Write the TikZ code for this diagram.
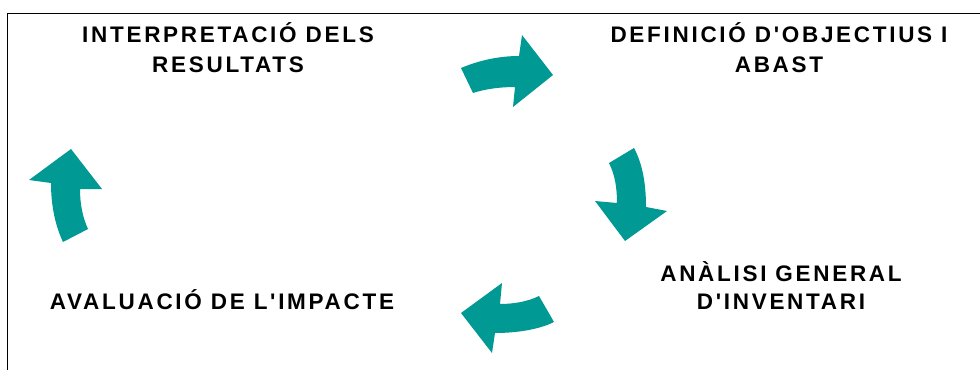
\documentclass[tikz,border=0pt]{standalone}
\usepackage{fontspec}
\newfontfamily\lblfont{Liberation Sans}[LetterSpace=12]
\definecolor{teal}{RGB}{0,153,148}
\begin{document}
\begin{tikzpicture}[x=1pt,y=-1pt,
  lbl/.style={align=center,inner sep=0pt,font=\lblfont\bfseries\fontsize{22.5}{30}\selectfont},
  lblb/.style={align=center,inner sep=0pt,font=\lblfont\bfseries\fontsize{22.5}{28}\selectfont},
  cyc/.style={fill=teal,draw=none}]
\useasboundingbox (0,0) rectangle (980,370);
\fill[white] (0,0) rectangle (980,370);
% frame (top and left only)
\coordinate (fa) at (7,370);
\coordinate (fb) at (7,13);
\coordinate (fc) at (980,13);
\draw[line width=0.9pt] (fa) -- (fb) -- (fc);
% labels
\node[lbl] (interp) at (228,47.5) {INTERPRETACIÓ DELS\\RESULTATS};
\node[lbl] (defin) at (779,47.5) {DEFINICIÓ D'OBJECTIUS I\\ABAST};
\node[lblb] (analisi) at (781,286) {ANÀLISI GENERAL\\D'INVENTARI};
\node[lbl] (aval) at (222,300) {AVALUACIÓ DE L'IMPACTE};
% arrow right (top)
\fill[cyc] (461,68) .. controls (480,60) and (500,56) .. (519,56) -- (522,35) -- (553,75) -- (513,107) -- (515,87) .. controls (500,87) and (485,89) .. (473,93) -- cycle;
% arrow down (right)
\fill[cyc] (609,163) -- (634,148) .. controls (643,165) and (646,185) .. (646,207) -- (667,211) -- (625,241) -- (595,201) -- (617,203) .. controls (617,188) and (615,175) .. (609,163) -- cycle;
% arrow left (bottom)
\fill[cyc] (539,296) .. controls (527,302) and (512,304) .. (500,304) -- (502,283) -- (461,313) -- (492,353) -- (495,333) .. controls (515,333) and (538,330) .. (554,322) -- cycle;
% arrow up (left)
\fill[cyc] (71,149) -- (102,189) -- (80,189) .. controls (80,205) and (83,218) .. (88,229) -- (63,242) .. controls (55,225) and (51,205) .. (51,183) -- (29,180) -- cycle;
\end{tikzpicture}
\end{document}
